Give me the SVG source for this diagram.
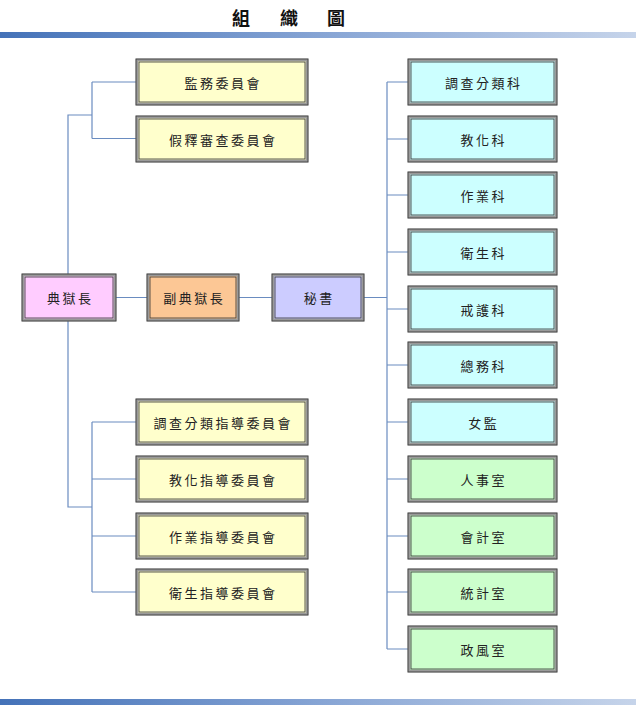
<svg xmlns="http://www.w3.org/2000/svg" width="636" height="705" viewBox="0 0 636 705">
<defs>
<linearGradient id="bar" x1="0" y1="0" x2="1" y2="0">
<stop offset="0" stop-color="#4472b8"/>
<stop offset="0.5" stop-color="#86a4d4"/>
<stop offset="1" stop-color="#c6d4ea"/>
</linearGradient>
<style>
.t{font-family:"Noto Sans CJK TC","Noto Sans CJK SC",sans-serif;font-size:13px;letter-spacing:2.5px;fill:#222;text-anchor:middle;dominant-baseline:central}
.title{font-family:"Noto Sans CJK TC","Noto Sans CJK SC",sans-serif;font-size:18px;font-weight:bold;fill:#111}
.o{stroke:#9a9a9a;stroke-width:2.5}
.i{fill:none;stroke:#333;stroke-width:0.8}
.e{fill:none;stroke:#444;stroke-width:1}
.c{fill:none;stroke:#6a8cc0;stroke-width:1.2}
.pink{fill:#ffccff}.orange{fill:#fcc795}.lav{fill:#ccccff}.yel{fill:#ffffcc}.cyan{fill:#ccffff}.grn{fill:#ccffcc}
</style>
</defs>
<rect width="636" height="705" fill="#ffffff"/>
<text class="title" x="232" y="25">組</text>
<text class="title" x="280" y="25">織</text>
<text class="title" x="327" y="25">圖</text>
<rect x="0" y="32" width="636" height="6" fill="url(#bar)"/>
<rect x="0" y="699" width="636" height="6" fill="url(#bar)"/>

<g id="connectors" class="c">
<path d="M115,297.5H148M238,297.5H273M363,297.5H387"/>
<path d="M68,275V115H92M92,82V138.5M92,82H137M92,138.5H137"/>
<path d="M68,320V507H92M92,422V592M92,422H137M92,479H137M92,536H137M92,592H137"/>
<path d="M387,82V649M387,82H409M387,139H409M387,195H409M387,252H409M387,309H409M387,365H409M387,422H409M387,479H409M387,536H409M387,592H409M387,649H409"/>
</g>

<g id="n-dianyuzhang"><rect class="o pink" x="23" y="275" width="92" height="45"/><rect class="i" x="25" y="277" width="88" height="41"/><rect class="e" x="22" y="274" width="94" height="47"/><text class="t" x="70.2" y="297.5">典獄長</text></g>
<g id="n-fudianyuzhang"><rect class="o orange" x="148" y="275" width="90" height="45"/><rect class="i" x="150" y="277" width="86" height="41"/><rect class="e" x="147" y="274" width="92" height="47"/><text class="t" x="194.2" y="297.5">副典獄長</text></g>
<g id="n-mishu"><rect class="o lav" x="273" y="275" width="90" height="45"/><rect class="i" x="275" y="277" width="86" height="41"/><rect class="e" x="272" y="274" width="92" height="47"/><text class="t" x="319.2" y="297.5">秘書</text></g>

<g id="n-jianwu"><rect class="o yel" x="137" y="60" width="170" height="44"/><rect class="i" x="139" y="62" width="166" height="40"/><rect class="e" x="136" y="59" width="172" height="46"/><text class="t" x="223.2" y="82">監務委員會</text></g>
<g id="n-jiashi"><rect class="o yel" x="137" y="117" width="170" height="44"/><rect class="i" x="139" y="119" width="166" height="40"/><rect class="e" x="136" y="116" width="172" height="46"/><text class="t" x="223.2" y="139">假釋審查委員會</text></g>
<g id="n-diaocha-zd"><rect class="o yel" x="137" y="400" width="170" height="44"/><rect class="i" x="139" y="402" width="166" height="40"/><rect class="e" x="136" y="399" width="172" height="46"/><text class="t" x="223.2" y="422">調查分類指導委員會</text></g>
<g id="n-jiaohua-zd"><rect class="o yel" x="137" y="457" width="170" height="44"/><rect class="i" x="139" y="459" width="166" height="40"/><rect class="e" x="136" y="456" width="172" height="46"/><text class="t" x="223.2" y="479">教化指導委員會</text></g>
<g id="n-zuoye-zd"><rect class="o yel" x="137" y="514" width="170" height="44"/><rect class="i" x="139" y="516" width="166" height="40"/><rect class="e" x="136" y="513" width="172" height="46"/><text class="t" x="223.2" y="536">作業指導委員會</text></g>
<g id="n-weisheng-zd"><rect class="o yel" x="137" y="570" width="170" height="44"/><rect class="i" x="139" y="572" width="166" height="40"/><rect class="e" x="136" y="569" width="172" height="46"/><text class="t" x="223.2" y="592">衛生指導委員會</text></g>

<g id="n-diaocha"><rect class="o cyan" x="409" y="60" width="147" height="44"/><rect class="i" x="411" y="62" width="143" height="40"/><rect class="e" x="408" y="59" width="149" height="46"/><text class="t" x="483.7" y="82">調查分類科</text></g>
<g id="n-jiaohua"><rect class="o cyan" x="409" y="117" width="147" height="44"/><rect class="i" x="411" y="119" width="143" height="40"/><rect class="e" x="408" y="116" width="149" height="46"/><text class="t" x="483.7" y="139">教化科</text></g>
<g id="n-zuoye"><rect class="o cyan" x="409" y="173" width="147" height="44"/><rect class="i" x="411" y="175" width="143" height="40"/><rect class="e" x="408" y="172" width="149" height="46"/><text class="t" x="483.7" y="195">作業科</text></g>
<g id="n-weisheng"><rect class="o cyan" x="409" y="230" width="147" height="44"/><rect class="i" x="411" y="232" width="143" height="40"/><rect class="e" x="408" y="229" width="149" height="46"/><text class="t" x="483.7" y="252">衛生科</text></g>
<g id="n-jiehu"><rect class="o cyan" x="409" y="287" width="147" height="44"/><rect class="i" x="411" y="289" width="143" height="40"/><rect class="e" x="408" y="286" width="149" height="46"/><text class="t" x="483.7" y="309">戒護科</text></g>
<g id="n-zongwu"><rect class="o cyan" x="409" y="343" width="147" height="44"/><rect class="i" x="411" y="345" width="143" height="40"/><rect class="e" x="408" y="342" width="149" height="46"/><text class="t" x="483.7" y="365">總務科</text></g>
<g id="n-nvjian"><rect class="o cyan" x="409" y="400" width="147" height="44"/><rect class="i" x="411" y="402" width="143" height="40"/><rect class="e" x="408" y="399" width="149" height="46"/><text class="t" x="483.7" y="422">女監</text></g>
<g id="n-renshi"><rect class="o grn" x="409" y="457" width="147" height="44"/><rect class="i" x="411" y="459" width="143" height="40"/><rect class="e" x="408" y="456" width="149" height="46"/><text class="t" x="483.7" y="479">人事室</text></g>
<g id="n-kuaiji"><rect class="o grn" x="409" y="514" width="147" height="44"/><rect class="i" x="411" y="516" width="143" height="40"/><rect class="e" x="408" y="513" width="149" height="46"/><text class="t" x="483.7" y="536">會計室</text></g>
<g id="n-tongji"><rect class="o grn" x="409" y="570" width="147" height="44"/><rect class="i" x="411" y="572" width="143" height="40"/><rect class="e" x="408" y="569" width="149" height="46"/><text class="t" x="483.7" y="592">統計室</text></g>
<g id="n-zhengfeng"><rect class="o grn" x="409" y="627" width="147" height="44"/><rect class="i" x="411" y="629" width="143" height="40"/><rect class="e" x="408" y="626" width="149" height="46"/><text class="t" x="483.7" y="649">政風室</text></g>
</svg>
